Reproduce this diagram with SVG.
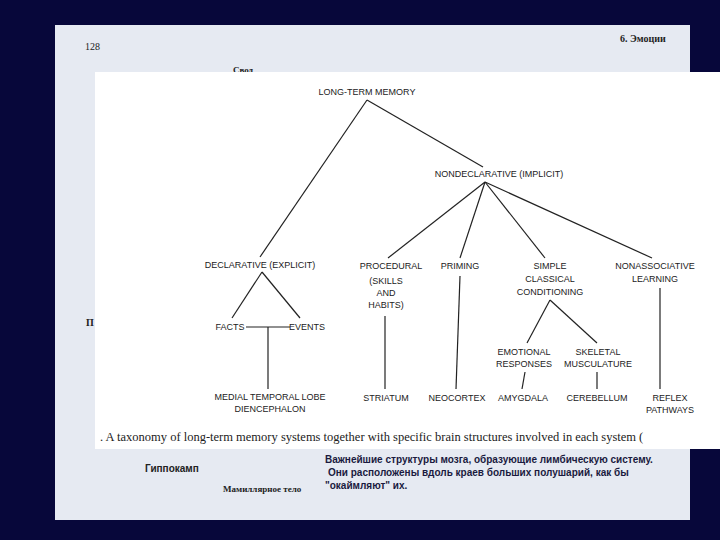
<svg xmlns="http://www.w3.org/2000/svg" width="720" height="540" viewBox="0 0 720 540">
<style>
.t{font-family:"Liberation Sans",Arial,sans-serif;font-size:9px;fill:#222;text-anchor:middle}
.s{font-family:"Liberation Serif","Times New Roman",serif;fill:#222}
.r{font-family:"Liberation Sans",Arial,sans-serif;font-size:10px;font-weight:bold;fill:#1a1a40}
line{stroke:#222;stroke-width:1.2}
</style>
<rect width="720" height="540" fill="#07073a"/>
<rect x="55" y="25" width="635" height="495" fill="#e6eaf2"/>
<text class="s" x="85" y="50" font-size="10">128</text>
<text class="s" x="620" y="42" font-size="10" font-weight="bold">6. Эмоции</text>
<text class="s" x="233" y="73" font-size="9" font-weight="bold">Свод</text>
<text class="s" x="86" y="326" font-size="10" font-weight="bold">П</text>
<rect x="95" y="72" width="625" height="377" fill="#ffffff"/>
<g id="connectors">
<line x1="367" y1="100" x2="260" y2="257"/>
<line x1="367" y1="100" x2="483" y2="167"/>
<line x1="485" y1="182" x2="388" y2="258"/>
<line x1="485" y1="182" x2="460" y2="258"/>
<line x1="485" y1="182" x2="545" y2="258"/>
<line x1="485" y1="182" x2="652" y2="258"/>
<line x1="262" y1="272" x2="232" y2="318"/>
<line x1="262" y1="272" x2="300" y2="318"/>
<line x1="246" y1="327" x2="290" y2="327"/>
<line x1="268" y1="327" x2="268" y2="389"/>
<line x1="385" y1="316" x2="385" y2="389"/>
<line x1="460" y1="276" x2="456" y2="389"/>
<line x1="550" y1="300" x2="527" y2="343"/>
<line x1="550" y1="300" x2="597" y2="343"/>
<line x1="525" y1="372" x2="522" y2="389"/>
<line x1="597" y1="372" x2="597" y2="389"/>
<line x1="660" y1="288" x2="660" y2="389"/>
</g>
<g id="ltm"><text class="t" x="367" y="95">LONG-TERM MEMORY</text></g>
<g id="nondecl"><text class="t" x="499" y="177">NONDECLARATIVE (IMPLICIT)</text></g>
<g id="decl"><text class="t" x="260" y="268">DECLARATIVE (EXPLICIT)</text></g>
<g id="facts"><text class="t" x="230" y="330">FACTS</text></g>
<g id="events"><text class="t" x="307" y="330">EVENTS</text></g>
<g id="mtl"><text class="t" x="270" y="400">MEDIAL TEMPORAL LOBE</text><text class="t" x="270" y="412">DIENCEPHALON</text></g>
<g id="proc"><text class="t" x="391" y="269">PROCEDURAL</text><text class="t" x="386" y="284">(SKILLS</text><text class="t" x="386" y="296">AND</text><text class="t" x="386" y="308">HABITS)</text></g>
<g id="striatum"><text class="t" x="386" y="401">STRIATUM</text></g>
<g id="priming"><text class="t" x="460" y="269">PRIMING</text></g>
<g id="neocortex"><text class="t" x="457" y="401">NEOCORTEX</text></g>
<g id="scc"><text class="t" x="550" y="269">SIMPLE</text><text class="t" x="550" y="282">CLASSICAL</text><text class="t" x="550" y="295">CONDITIONING</text></g>
<g id="emo"><text class="t" x="524" y="355">EMOTIONAL</text><text class="t" x="524" y="367">RESPONSES</text></g>
<g id="skel"><text class="t" x="598" y="355">SKELETAL</text><text class="t" x="598" y="367">MUSCULATURE</text></g>
<g id="amygdala"><text class="t" x="523" y="401">AMYGDALA</text></g>
<g id="cerebellum"><text class="t" x="597" y="401">CEREBELLUM</text></g>
<g id="nonassoc"><text class="t" x="655" y="269">NONASSOCIATIVE</text><text class="t" x="655" y="282">LEARNING</text></g>
<g id="reflex"><text class="t" x="670" y="401">REFLEX</text><text class="t" x="670" y="413">PATHWAYS</text></g>
<text class="s" x="100" y="441" font-size="12.5">.   A taxonomy of long-term memory systems together with specific brain structures involved in each system (</text>
<text x="145" y="472" font-family="Liberation Sans,Arial,sans-serif" font-size="10" font-weight="bold" fill="#222">Гиппокамп</text>
<text class="s" x="223" y="492" font-size="9" font-weight="bold">Мамиллярное тело</text>
<text class="r" x="325" y="463">Важнейшие структуры мозга, образующие лимбическую систему.</text>
<text class="r" x="328" y="476">Они расположены вдоль краев больших полушарий, как бы</text>
<text class="r" x="325" y="489">"окаймляют" их.</text>
</svg>
